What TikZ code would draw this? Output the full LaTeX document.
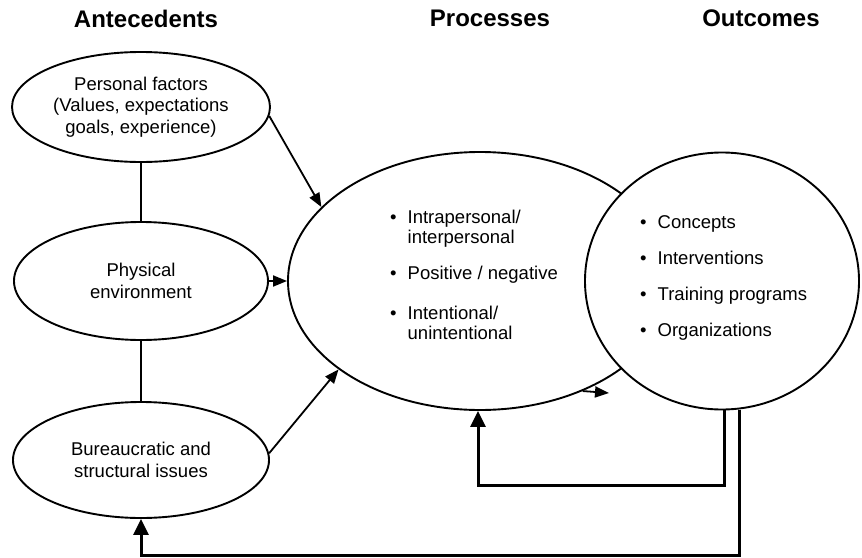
\documentclass[tikz,border=0pt]{standalone}
\usepackage{fontspec}
\setmainfont{Liberation Sans}
\usetikzlibrary{shapes.geometric,arrows.meta}
\newcommand{\ovaltext}{\fontsize{18.5pt}{21.5pt}\selectfont}
\newcommand{\listtext}{\fontsize{18.5pt}{20pt}\selectfont}
\begin{document}
\begin{tikzpicture}[x=1pt,y=-1pt,
    oval/.style={draw,ellipse,line width=1.9pt,inner sep=0pt,align=center,font=\ovaltext},
    heading/.style={inner sep=0pt,font=\fontsize{24pt}{28pt}\selectfont\bfseries},
    itemlist/.style={inner sep=0pt,anchor=north west,font=\listtext},
    link/.style={line width=1.8pt},
    arr/.style={line width=1.8pt,-{Triangle[length=14pt,width=11pt]}},
    feedback/.style={line width=3pt,-{Triangle[length=16pt,width=15pt]}}]
  \useasboundingbox (0,0) rectangle (862,557);
  % column titles
  \node[heading] (hant) at (146,18.5) {Antecedents};
  \node[heading] (hproc) at (490,18.5) {Processes};
  \node[heading] (hout) at (761,18.5) {Outcomes};
  % antecedents
  \node[oval,minimum width=258pt,minimum height=110pt] (pers) at (141,107)
    {Personal factors\\(Values, expectations\\goals, experience)};
  \node[oval,minimum width=254pt,minimum height=118pt] (phys) at (141,281)
    {Physical\\environment};
  \node[oval,minimum width=256pt,minimum height=116pt] (bur) at (141,460)
    {Bureaucratic and\\structural issues};
  % processes and outcomes
  \node[oval,minimum width=384pt,minimum height=258pt] (proc) at (480,281) {};
  \node[oval,fill=white,minimum width=274pt,minimum height=257pt] (out) at (722,281) {};
  \node[itemlist] (plist) at (390,209) {\begin{tabular}{@{}l@{\hspace{11pt}}l@{}}
      \textbullet & Intrapersonal/\\
                  & interpersonal\\[16pt]
      \textbullet & Positive / negative\\[20pt]
      \textbullet & Intentional/\\
                  & unintentional
    \end{tabular}};
  \node[itemlist] (olist) at (640,214) {\begin{tabular}{@{}l@{\hspace{11pt}}l@{}}
      \textbullet & Concepts\\[16pt]
      \textbullet & Interventions\\[16pt]
      \textbullet & Training programs\\[16pt]
      \textbullet & Organizations
    \end{tabular}};
  % links
  \draw[link] (pers) -- (phys);
  \draw[link] (phys) -- (bur);
  \draw[arr] (pers.-4) -- (proc.155);
  \draw[arr] (phys) -- (proc);
  \draw[arr] (bur.3) -- (proc.212);
  \coordinate (ptip) at (609,393);
  \draw[arr] (proc.-47) -- (ptip);
  % feedback loops
  \draw[feedback] ([xshift=2pt]out.south) -- ++(0,75) -| ([xshift=-2pt]proc.south);
  \draw[feedback] ([xshift=17pt]out.south) -- ++(0,145) -| (bur.south);
\end{tikzpicture}
\end{document}
